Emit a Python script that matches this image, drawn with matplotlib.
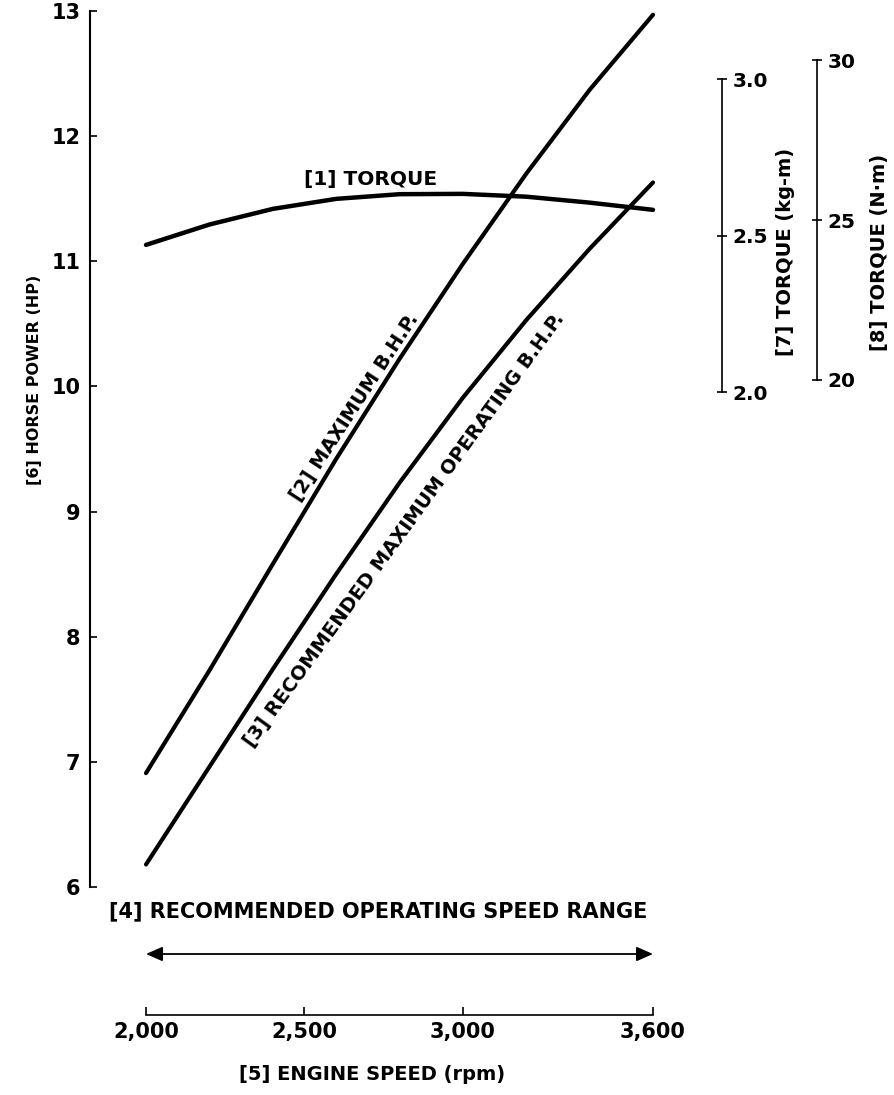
import matplotlib
matplotlib.use("Agg")
import matplotlib.pyplot as plt

# ---- data ----
rpm = [2000, 2200, 2400, 2600, 2800, 3000, 3200, 3400, 3600]
max_bhp = [6.91, 7.73, 8.58, 9.42, 10.22, 10.98, 11.70, 12.37, 12.97]
rec_bhp = [6.18, 6.96, 7.74, 8.50, 9.23, 9.91, 10.53, 11.10, 11.63]
torque_kgm = [2.470, 2.535, 2.585, 2.617, 2.632, 2.633, 2.624, 2.605, 2.582]

hp_ticks = [6, 7, 8, 9, 10, 11, 12, 13]
rpm_ticks = [2000, 2500, 3000, 3600]
rpm_ticklabels = ["2,000", "2,500", "3,000", "3,600"]
kgm_ticks = [2.0, 2.5, 3.0]
kgm_ticklabels = ["2.0", "2.5", "3.0"]
nm_ticks = [20, 25, 30]
nm_ticklabels = ["20", "25", "30"]
KGM_TO_NM = 9.80665

# ---- figure geometry (pixels) ----
W, H = 895, 1095
fig = plt.figure(figsize=(W / 100, H / 100), dpi=100)
fig.patch.set_facecolor("white")

ax_left_px, ax_right_px = 90, 700
ax_top_px, ax_bot_px = 11, 1015
ax = fig.add_axes([ax_left_px / W, 1 - ax_bot_px / H,
                   (ax_right_px - ax_left_px) / W, (ax_bot_px - ax_top_px) / H])

# x scale: 2000 rpm at x=146 px, 3600 at 653 px
px_per_rpm = (653 - 146) / 1600
ax.set_xlim(2000 - (146 - ax_left_px) / px_per_rpm,
            2000 + (ax_right_px - 146) / px_per_rpm)
# y scale: HP 13 at y=11 px, HP 6 at y=887 px
px_per_hp = (887 - 11) / 7
ax.set_ylim(6 - (ax_bot_px - 887) / px_per_hp, 13)

BOLD = dict(fontweight="bold", color="black")

ax.plot(rpm, max_bhp, color="black", lw=3.0, solid_capstyle="round",
        solid_joinstyle="round", zorder=3)
ax.plot(rpm, rec_bhp, color="black", lw=3.0, solid_capstyle="round",
        solid_joinstyle="round", zorder=3)

for s in ["top", "right"]:
    ax.spines[s].set_visible(False)
ax.spines["left"].set_bounds(6, 13)
ax.spines["left"].set_linewidth(1.5)
ax.spines["bottom"].set_bounds(2000, 3600)
ax.spines["bottom"].set_linewidth(1.2)

ax.set_yticks(hp_ticks)
ax.set_yticklabels([str(t) for t in hp_ticks])
ax.tick_params(axis="y", direction="in", length=5, width=1.2, pad=7,
               labelsize=15)
ax.set_xticks(rpm_ticks)
ax.set_xticklabels(rpm_ticklabels)
ax.tick_params(axis="x", direction="in", length=6, width=1.2, pad=5,
               labelsize=15)
for lab in ax.get_xticklabels() + ax.get_yticklabels():
    lab.set_fontweight("bold")

# torque axes (kg-m and N-m)
ax2 = ax.twinx()
kg_px = (392 - 79) / 1.0
ax2.set_ylim(2.0 - (ax_bot_px - 392) / kg_px, 3.0 + (79 - ax_top_px) / kg_px)
ax2.plot(rpm, torque_kgm, color="black", lw=3.2, solid_capstyle="round",
         solid_joinstyle="round", zorder=3)
for s in ["top", "left", "bottom"]:
    ax2.spines[s].set_visible(False)
ax2.spines["right"].set_position(("axes", (722 - ax_left_px) / (ax_right_px - ax_left_px)))
ax2.spines["right"].set_bounds(2.0, 3.0)
ax2.spines["right"].set_linewidth(1.2)
ax2.set_yticks(kgm_ticks)
ax2.set_yticklabels(kgm_ticklabels)
ax2.tick_params(axis="y", direction="inout", length=7, width=1.2, pad=4,
                labelsize=14.5)

ax3 = ax.twinx()
lo, hi = ax2.get_ylim()
ax3.set_ylim(lo * KGM_TO_NM, hi * KGM_TO_NM)
for s in ["top", "left", "bottom"]:
    ax3.spines[s].set_visible(False)
ax3.spines["right"].set_position(("axes", (817 - ax_left_px) / (ax_right_px - ax_left_px)))
ax3.spines["right"].set_bounds(20, 30)
ax3.spines["right"].set_linewidth(1.2)
ax3.set_yticks(nm_ticks)
ax3.set_yticklabels(nm_ticklabels)
ax3.tick_params(axis="y", direction="inout", length=7, width=1.2, pad=4,
                labelsize=14.5)
for a in (ax2, ax3):
    for lab in a.get_yticklabels():
        lab.set_fontweight("bold")


def to_data(x_px, y_px):
    return (2000 + (x_px - 146) / px_per_rpm, 6 + (887 - y_px) / px_per_hp)


# curve labels
x, y = to_data(371, 179)
ax.text(x, y, "[1] TORQUE", ha="center", va="center", fontsize=14.5, **BOLD)
x, y = to_data(355, 407)
ax.text(x, y, "[2] MAXIMUM B.H.P.", ha="center", va="center", rotation=57,
        rotation_mode="anchor", fontsize=14, **BOLD)
x, y = to_data(404, 530)
ax.text(x, y, "[3] RECOMMENDED MAXIMUM OPERATING B.H.P.", ha="center",
        va="center", rotation=54, rotation_mode="anchor", fontsize=14, **BOLD)
x, y = to_data(378, 911)
ax.text(x, y, "[4] RECOMMENDED OPERATING SPEED RANGE", ha="center",
        va="center", fontsize=15, **BOLD)

# speed range arrow
_, y_arrow = to_data(0, 954)
ax.annotate("", xy=(rpm_ticks[-1], y_arrow), xytext=(rpm_ticks[0], y_arrow),
            arrowprops=dict(arrowstyle="<|-|>,head_length=0.5,head_width=0.22",
                            mutation_scale=20, lw=1.3, color="black",
                            shrinkA=0, shrinkB=0))

# axis titles
fig.text(372 / W, 1 - 1074 / H, "[5] ENGINE SPEED (rpm)", ha="center",
         va="center", fontsize=14, **BOLD)
fig.text(35 / W, 1 - 380 / H, "[6] HORSE POWER (HP)", ha="center",
         va="center", rotation=90, fontsize=11.5, **BOLD)
fig.text(786 / W, 1 - 252 / H, "[7] TORQUE (kg-m)", ha="center", va="center",
         rotation=90, fontsize=14, **BOLD)
fig.text(880 / W, 1 - 252 / H, "[8] TORQUE (N·m)", ha="center", va="center",
         rotation=90, fontsize=14, **BOLD)

fig.savefig("out.png", dpi=100, facecolor="white")
